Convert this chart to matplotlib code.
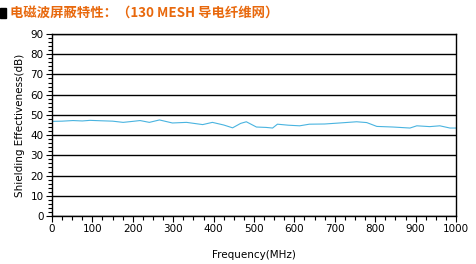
import numpy as np
import matplotlib.pyplot as plt
from matplotlib.ticker import MultipleLocator

# values
freq = [0, 25, 52, 75, 94, 120, 150, 176, 200, 218, 241, 266, 298, 333, 373,
        397, 425, 447, 467, 481, 506, 530, 546, 558, 585, 613, 637, 675, 712,
        754, 779, 804, 844, 886, 903, 935, 960, 985, 1000]
se_db = [46.8, 46.9, 47.2, 47.0, 47.3, 47.1, 46.9, 46.3, 46.8, 47.2, 46.3, 47.5,
         46.0, 46.3, 45.2, 46.3, 45.0, 43.6, 45.8, 46.6, 44.0, 43.8, 43.5, 45.4,
         44.9, 44.6, 45.4, 45.5, 46.0, 46.6, 46.2, 44.3, 44.0, 43.5, 44.6, 44.2,
         44.6, 43.5, 43.5]

title = "电磁波屏蔽特性：（130 MESH 导电纤维网）"

plt.rcParams['font.family'] = ['DejaVu Sans']

fig = plt.figure(figsize=(4.77, 2.64), dpi=100)
fig.patch.set_facecolor('white')
ax = fig.add_axes([52 / 477, 48 / 264, 404 / 477, 182 / 264])

ax.plot(freq, se_db, color='#4ab4e0', lw=0.8)

ax.set_xlim(0, 1000)
ax.set_ylim(0, 90)
ax.xaxis.set_major_locator(MultipleLocator(100))
ax.xaxis.set_minor_locator(MultipleLocator(25))
ax.yaxis.set_major_locator(MultipleLocator(10))
ax.yaxis.set_minor_locator(MultipleLocator(2))
ax.grid(axis='y', which='major', color='black', lw=1)
ax.tick_params(which='major', length=4, width=0.8, labelsize=7.5, pad=2)
ax.tick_params(which='minor', length=3, width=0.8)
for s in ax.spines.values():
    s.set_linewidth(1)

ax.set_xlabel('Frequency(MHz)', fontsize=7.5, labelpad=11)
ax.set_ylabel('Shielding Effectiveness(dB)', fontsize=7.5, labelpad=4)

fig.patches.append(plt.Rectangle((0, 246 / 264), 6 / 477, 10 / 264,
                                 transform=fig.transFigure, color='black'))
fig.text(10 / 477, 251 / 264, title, family=['Noto Sans CJK SC', 'DejaVu Sans'],
         fontsize=9.6, fontweight='bold', color='#e8680c', va='center', ha='left')

fig.savefig('out.png', dpi=100)
